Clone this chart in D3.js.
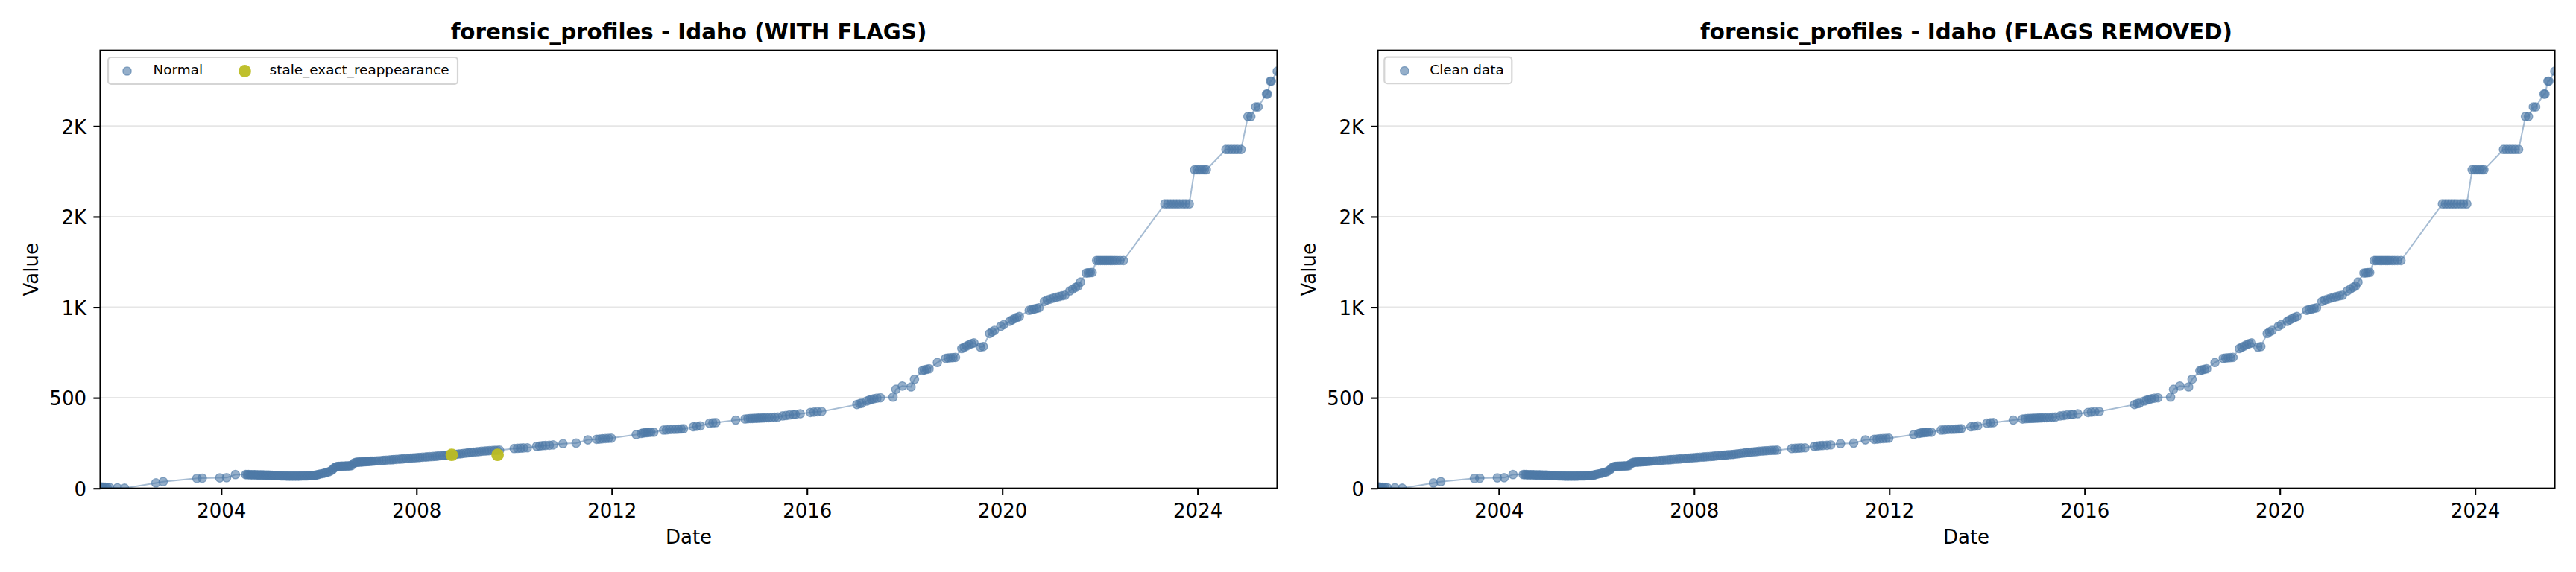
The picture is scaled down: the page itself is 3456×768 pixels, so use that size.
<!DOCTYPE html>
<html><head><meta charset="utf-8">
<script src="https://cdn.jsdelivr.net/npm/d3@7"></script>
<style>
html,body{margin:0;padding:0;background:#fff;}
svg{display:block;}
text{font-family:"DejaVu Sans",sans-serif;}
</style>
</head><body>
<svg id="chart" width="3456" height="768"></svg>
<script>
// ---------------- DATA ----------------
const titles = ["forensic_profiles - Idaho (WITH FLAGS)", "forensic_profiles - Idaho (FLAGS REMOVED)"];
const xLabel = "Date";
const yLabel = "Value";
const legendLeft = ["Normal", "stale_exact_reappearance"];
const legendRight = ["Clean data"];
const xTickYears = [2004, 2008, 2012, 2016, 2020, 2024];
const yTickValues = [0, 500, 1000, 1500, 2000];
const yTickLabels = ["0", "500", "1K", "2K", "2K"];
const xDomainYears = [2001.52, 2025.63];
const yDomain = [0, 2418];

// dates given as decimal years
const normalDates = [
  2001.52,2001.55,2001.58,2001.62,2001.66,2001.71,2001.87,2002.02,
  2002.66,2002.81,2003.50,2003.61,2003.97,2004.11,2004.29,
  2004.50,2004.53,2004.56,2004.59,2004.62,2004.65,2004.68,2004.71,2004.74,2004.77,2004.80,2004.83,2004.86,2004.89,2004.92,2004.95,2004.98,
  2005.01,2005.04,2005.07,2005.10,2005.13,2005.16,2005.19,2005.22,2005.25,2005.28,2005.31,2005.34,2005.37,2005.40,2005.43,2005.46,2005.49,
  2005.52,2005.55,2005.58,2005.61,2005.64,2005.67,2005.70,2005.73,2005.76,2005.79,2005.82,2005.85,2005.88,2005.91,2005.94,2005.97,
  2006.00,2006.04,2006.08,2006.12,2006.16,2006.20,2006.24,2006.28,2006.31,2006.34,2006.37,
  2006.40,2006.43,2006.46,2006.49,2006.52,2006.55,2006.58,2006.61,2006.64,2006.67,
  2006.71,2006.74,2006.77,2006.80,2006.83,2006.86,2006.89,2006.92,2006.95,2006.98,2007.01,2007.04,2007.07,2007.10,
  2007.14,2007.18,2007.23,2007.29,2007.33,2007.38,2007.44,2007.49,2007.53,2007.58,2007.64,2007.69,2007.73,2007.79,2007.84,2007.88,2007.93,2007.98,
  2008.03,2008.07,2008.12,2008.18,2008.22,2008.27,2008.33,2008.38,2008.42,2008.47,2008.53,2008.57,2008.62,2008.66,2008.71,2008.77,2008.81,2008.86,2008.91,2008.96,
  2009.02,2009.07,2009.12,2009.17,2009.23,2009.28,2009.33,2009.39,2009.44,2009.49,2009.55,2009.60,2009.65,2009.70,
  2010.00,2010.07,2010.13,2010.19,2010.27,2010.46,2010.52,2010.58,2010.64,2010.72,2010.80,
  2011.00,2011.27,2011.51,2011.69,2011.75,2011.81,2011.87,2011.93,2011.99,
  2012.50,2012.60,2012.64,2012.68,2012.72,2012.76,2012.80,2012.86,
  2013.06,2013.12,2013.18,2013.24,2013.30,2013.36,2013.42,2013.47,2013.67,2013.74,2013.81,
  2014.00,2014.07,2014.13,2014.54,
  2014.73,2014.79,2014.84,2014.88,2014.92,2014.96,2015.00,2015.04,2015.08,2015.12,2015.17,2015.22,2015.28,2015.34,2015.40,
  2015.50,2015.57,2015.64,2015.72,2015.76,2015.86,2016.07,2016.14,2016.21,2016.30,
  2017.02,2017.08,2017.12,2017.22,2017.27,2017.32,2017.37,2017.43,2017.50,2017.76,2017.82,2017.95,
  2018.13,2018.20,2018.36,2018.40,2018.45,2018.50,2018.67,2018.84,2018.89,2018.94,2018.99,2019.04,
  2019.17,2019.22,2019.27,2019.32,2019.37,2019.42,2019.55,2019.61,2019.74,2019.79,2019.84,2019.97,2020.03,
  2020.15,2020.20,2020.25,2020.30,2020.35,2020.55,2020.60,2020.65,2020.70,2020.75,
  2020.86,2020.92,2020.98,2021.04,2021.10,2021.16,2021.22,2021.28,2021.38,2021.44,2021.50,2021.55,2021.60,
  2021.72,2021.76,2021.80,2021.84,2021.93,2021.97,2022.01,2022.05,2022.09,2022.13,2022.17,2022.21,2022.25,2022.30,2022.35,2022.41,2022.48,
  2023.33,2023.39,2023.45,2023.51,2023.57,2023.63,2023.70,2023.76,2023.83,
  2023.94,2023.99,2024.04,2024.09,2024.14,2024.18,2024.58,2024.64,2024.70,2024.76,2024.82,2024.89,
  2025.03,2025.09,2025.19,2025.24,2025.41,2025.43,2025.49,2025.51,2025.63
];
const normalValues = [
  8,8,7,7,6,5,3,1,
  30,37,55,56,58,59,76,
  76,76,76,75,75,75,75,75,74,74,74,74,74,73,73,73,73,
  72,72,71,71,70,70,70,69,69,69,69,68,68,68,68,68,68,
  68,68,68,68,69,69,69,69,69,70,70,70,71,72,73,75,
  78,80,82,85,88,91,96,104,112,118,121,
  122,122,123,123,123,124,124,124,125,126,
  138,142,144,145,145,146,146,147,147,148,148,149,150,150,
  151,152,153,154,155,156,157,158,159,160,161,162,163,165,166,167,168,169,
  170,171,172,173,174,175,176,177,178,180,181,182,183,184,186,187,188,190,191,193,
  195,197,199,200,202,203,205,206,207,208,209,210,210,211,
  220,221,222,223,224,232,234,236,237,238,240,
  247,250,268,271,272,274,275,276,277,
  297,303,306,307,308,309,310,310,
  322,323,325,326,326,327,328,329,340,343,345,
  360,362,363,377,
  383,385,386,386,387,387,388,388,389,389,390,390,391,393,394,
  400,402,405,407,408,412,419,421,423,424,
  463,468,470,482,487,491,495,498,500,504,547,565,
  560,602,650,654,657,660,695,718,720,721,722,723,
  772,779,786,793,799,803,780,783,855,864,872,895,904,
  922,930,937,944,949,983,987,990,994,997,
  1032,1040,1045,1050,1055,1059,1063,1066,1090,1100,1110,1117,1139,
  1189,1190,1191,1192,1258,1258,1258,1258,1258,1258,1258,1258,1258,1258,1258,1258,1258,
  1571,1571,1571,1571,1571,1571,1571,1571,1571,
  1759,1759,1759,1759,1759,1759,1871,1871,1871,1871,1871,1871,
  2053,2053,2106,2106,2177,2177,2248,2248,2303
];
const flagDates = [2008.72, 2009.66];
const flagValues = [185, 185];

// ---------------- DRAW ----------------
const BLUE = "#4e79a7", OLIVE = "#bcbd22";
const toDate = v => { const y = Math.floor(v); const s = Date.UTC(y,0,1), e = Date.UTC(y+1,0,1); return new Date(s + (v - y) * (e - s)); };
const nN = Math.min(normalDates.length, normalValues.length);
const normal = d3.range(nN).map(i => ({date: toDate(normalDates[i]), value: normalValues[i]}));
const flags = flagDates.map((d,i) => ({date: toDate(d), value: flagValues[i]}));

const svg = d3.select("#chart");
svg.append("rect").attr("width",3456).attr("height",768).attr("fill","#fff");
const TOP = 67.7, BOTTOM = 655.7;

const panels = [
  {left:134.5, right:1713.5, title:titles[0], showFlags:true,
   legend:{x:145, y:77, w:469, h:36, items:[
     {label:legendLeft[0], kind:"normal", mx:170.5, tx:205.5},
     {label:legendLeft[1], kind:"flag", mx:328.5, tx:361.6}]}},
  {left:1848.5, right:3427.5, title:titles[1], showFlags:false,
   legend:{x:1857.3, y:76.7, w:171, h:35.5, items:[
     {label:legendRight[0], kind:"normal", mx:1884.3, tx:1918.3}]}}
];

function normalMarker(sel){
  sel.attr("r",5.7).attr("fill",BLUE).attr("fill-opacity",0.6)
     .attr("stroke",BLUE).attr("stroke-opacity",0.6).attr("stroke-width",1.3);
}
function flagMarker(sel){
  sel.attr("r",8.4).attr("fill",OLIVE).attr("fill-opacity",0.95);
}

panels.forEach((p, pi) => {
  const x = d3.scaleUtc().domain(xDomainYears.map(toDate)).range([p.left, p.right]);
  const y = d3.scaleLinear().domain(yDomain).range([BOTTOM, TOP]);
  const g = svg.append("g");
  const clipId = "clip" + pi;
  svg.append("clipPath").attr("id", clipId).append("rect")
    .attr("x", p.left).attr("y", TOP).attr("width", p.right - p.left).attr("height", BOTTOM - TOP);

  // grid
  g.append("g").selectAll("line").data(yTickValues.filter(v => v > 0)).join("line")
    .attr("x1", p.left).attr("x2", p.right).attr("y1", d => y(d)).attr("y2", d => y(d))
    .attr("stroke", "#e6e6e6").attr("stroke-width", 2);

  const plot = g.append("g").attr("clip-path", `url(#${clipId})`);
  plot.append("path").datum(normal)
    .attr("d", d3.line().x(d => x(d.date)).y(d => y(d.value)))
    .attr("fill","none").attr("stroke",BLUE).attr("stroke-opacity",0.5).attr("stroke-width",2);
  plot.append("g").selectAll("circle").data(normal).join("circle")
    .attr("cx", d => x(d.date)).attr("cy", d => y(d.value)).call(normalMarker);
  if (p.showFlags) {
    plot.append("g").selectAll("circle").data(flags).join("circle")
      .attr("cx", d => x(d.date)).attr("cy", d => y(d.value)).call(flagMarker);
  }

  // x axis
  const xa = g.append("g").attr("transform", `translate(0,${BOTTOM})`)
    .call(d3.axisBottom(x).tickValues(xTickYears.map(yr => new Date(Date.UTC(yr,0,1))))
      .tickFormat(d3.utcFormat("%Y")).tickSize(9.1).tickSizeOuter(0));
  xa.select(".domain").remove();
  xa.selectAll(".tick line").attr("stroke","#000").attr("stroke-width",2.1);
  xa.selectAll(".tick text").attr("y",39.3).attr("dy",null).attr("font-size",26).attr("fill","#000");

  // y axis
  const ya = g.append("g").attr("transform", `translate(${p.left},0)`)
    .call(d3.axisLeft(y).tickValues(yTickValues).tickFormat((d,i) => yTickLabels[i]).tickSize(9.1).tickSizeOuter(0));
  ya.select(".domain").remove();
  ya.selectAll(".tick line").attr("stroke","#000").attr("stroke-width",2.1);
  ya.selectAll(".tick text").attr("x",-18.5).attr("y",9.7).attr("dy",null).attr("font-size",26).attr("fill","#000");

  // spines
  g.append("rect").attr("x",p.left).attr("y",TOP).attr("width",p.right-p.left).attr("height",BOTTOM-TOP)
    .attr("fill","none").attr("stroke","#000").attr("stroke-width",2.1);

  // labels
  const cx = (p.left + p.right) / 2;
  g.append("text").attr("x",cx).attr("y",53).attr("text-anchor","middle")
    .attr("font-size",29.3).attr("font-weight","bold").attr("fill","#000").text(p.title);
  g.append("text").attr("x",cx).attr("y",730).attr("text-anchor","middle")
    .attr("font-size",26).attr("fill","#000").text(xLabel);
  g.append("text").attr("transform",`translate(${p.left - 83.5},${(TOP+BOTTOM)/2}) rotate(-90)`)
    .attr("text-anchor","middle").attr("font-size",26).attr("fill","#000").text(yLabel);

  // legend
  const L = p.legend;
  const lg = g.append("g");
  lg.append("rect").attr("x",L.x).attr("y",L.y).attr("width",L.w).attr("height",L.h).attr("rx",4)
    .attr("fill","#fff").attr("fill-opacity",0.8).attr("stroke","#d5d5d5").attr("stroke-width",2.2);
  L.items.forEach(it => {
    const c = lg.append("circle").attr("cx",it.mx).attr("cy",L.y + 18.5);
    if (it.kind === "normal") c.call(normalMarker); else c.call(flagMarker);
    lg.append("text").attr("x",it.tx).attr("y",L.y + 23.3).attr("font-size",18.4).attr("fill","#000").text(it.label);
  });
});
</script>
</body></html>
